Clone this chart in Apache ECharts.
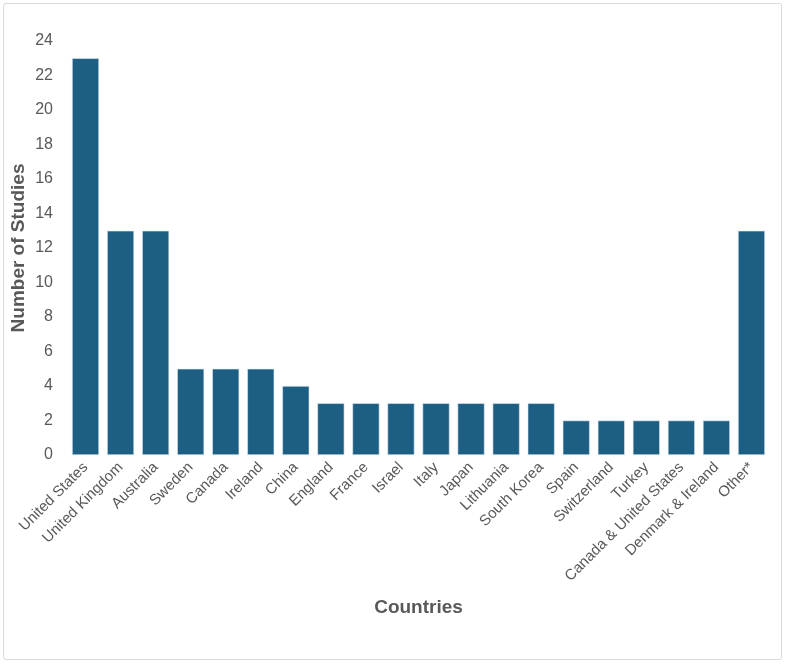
<!DOCTYPE html>
<html>
<head>
<meta charset="utf-8">
<script src="https://cdn.jsdelivr.net/npm/echarts@6/dist/echarts.min.js"></script>
<style>
  body { margin: 0; background: #fff; }
  #frame { position: absolute; left: 3px; top: 3px; width: 777px; height: 655px;
           border: 1.5px solid #d9d9d9; border-radius: 3px; }
  #chart { position: absolute; left: 0; top: 0; width: 786px; height: 665px; }
</style>
</head>
<body>
<div id="frame"></div>
<div id="chart"></div>
<script>
var countries = ['United States', 'United Kingdom', 'Australia', 'Sweden', 'Canada', 'Ireland',
    'China', 'England', 'France', 'Israel', 'Italy', 'Japan', 'Lithuania', 'South Korea',
    'Spain', 'Switzerland', 'Turkey', 'Canada & United States', 'Denmark & Ireland', 'Other*'];
var studies = [23, 13, 13, 5, 5, 5, 4, 3, 3, 3, 3, 3, 3, 3, 2, 2, 2, 2, 2, 13];

var FONT = 'Liberation Sans, Arial, sans-serif';
var chart = echarts.init(document.getElementById('chart'));

chart.setOption({
    animation: false,
    grid: { left: 68, right: 17, top: 41, bottom: 210, outerBoundsMode: 'none', containLabel: false },
    xAxis: {
        type: 'category',
        data: countries,
        name: 'Countries',
        nameLocation: 'middle',
        nameGap: 143,
        nameMoveOverlap: false,
        nameTextStyle: { fontFamily: FONT, fontSize: 19, fontWeight: 'bold', color: '#595959' },
        axisLine: { show: false },
        axisTick: { show: false },
        axisLabel: { interval: 0, rotate: 45, fontFamily: FONT, fontSize: 15, color: '#595959', margin: 10 }
    },
    yAxis: {
        type: 'value',
        min: 0,
        max: 24,
        interval: 2,
        name: 'Number of Studies',
        nameLocation: 'middle',
        nameGap: 40,
        nameMoveOverlap: false,
        nameTextStyle: { fontFamily: FONT, fontSize: 19, fontWeight: 'bold', color: '#595959' },
        axisLine: { show: false },
        axisTick: { show: false },
        splitLine: { show: false },
        axisLabel: { fontFamily: FONT, fontSize: 16, color: '#595959', margin: 15 }
    },
    series: [{
        type: 'bar',
        data: studies,
        barCategoryGap: '23%',
        itemStyle: { color: '#1c5f83', borderColor: '#dfe8ee', borderWidth: 0.6 }
    }]
});
</script>
</body>
</html>
